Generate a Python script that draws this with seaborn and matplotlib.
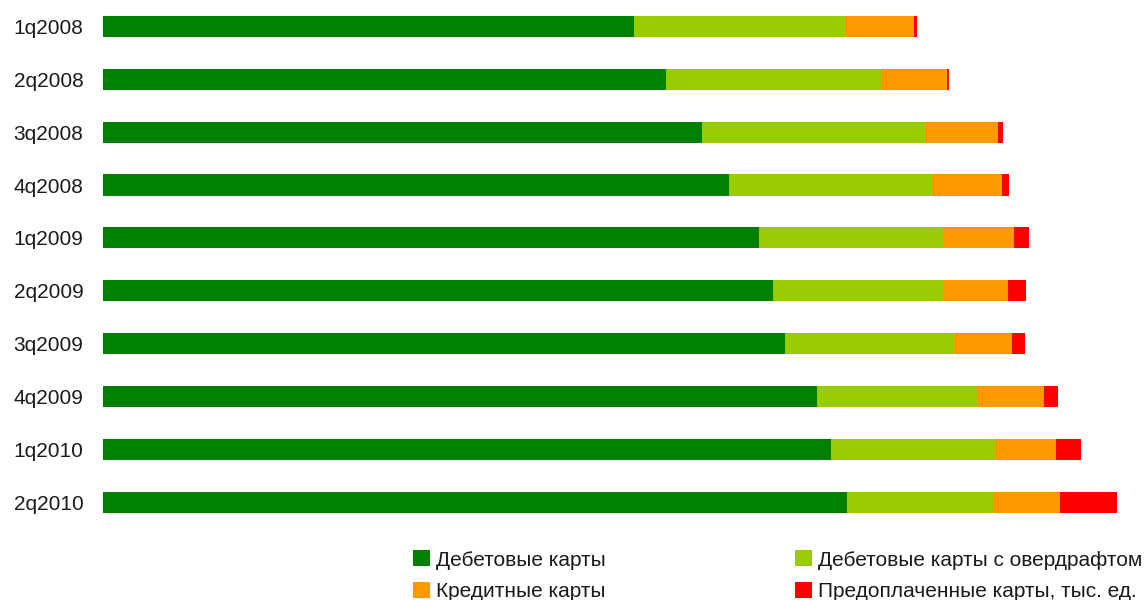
import matplotlib.pyplot as plt
import seaborn as sns
import pandas as pd
from matplotlib.patches import Patch

# --- данные (тыс. ед.), оценены по картинке
quarters = ['1q2008', '2q2008', '3q2008', '4q2008', '1q2009',
            '2q2009', '3q2009', '4q2009', '1q2010', '2q2010']
debit = [66375, 70375, 74875, 78190, 82000, 83750, 85250, 89250, 91000, 93000]
overdraft = [26375, 26875, 27875, 25375, 23060, 21310, 21125, 20060, 20560, 18310]
credit = [8625, 8310, 9125, 8810, 8810, 8060, 7310, 8310, 7560, 8310]
prepaid = [375, 250, 625, 875, 1940, 2250, 1625, 1750, 3125, 7125]

labels = ['Дебетовые карты', 'Дебетовые карты с овердрафтом',
          'Кредитные карты', 'Предоплаченные карты, тыс. ед.']
colors = ['#008000', '#99CC00', '#FF9900', '#FF0000']

sns.set_theme(style='white')
plt.rcParams['font.family'] = ['Liberation Sans', 'DejaVu Sans']

df = pd.DataFrame({'quarter': quarters})
df['s1'] = debit
df['s2'] = df['s1'] + overdraft
df['s3'] = df['s2'] + credit
df['s4'] = df['s3'] + prepaid

fig = plt.figure(figsize=(11.45, 6), dpi=100)
ax = fig.add_axes([0.09, 0.119, 0.91, 0.881])

# стек: рисуем накопленные суммы от большей к меньшей
for col, c in zip(['s4', 's3', 's2', 's1'], colors[::-1]):
    sns.barplot(data=df, x=col, y='quarter', color=c, orient='h',
                width=0.4, saturation=1, linewidth=0, ax=ax)

ax.set_xlim(0, 130250)
ax.set_ylim(9.5, -0.5)
sns.despine(ax=ax, left=True, bottom=True)
ax.set_xticks([])
ax.set_xlabel('')
ax.set_ylabel('')
ax.tick_params(axis='y', length=0, pad=14, labelsize=15, labelcolor='#1a1a1a')

order = [0, 2, 1, 3]
handles = [Patch(color=colors[i], linewidth=0) for i in order]
fig.legend(handles, [labels[i] for i in order], ncol=2, loc='upper left',
           bbox_to_anchor=(0.3607, 0.083), frameon=False,
           prop={'size': 15}, labelcolor='#1a1a1a',
           handlelength=0.82, handleheight=0.82, handletextpad=0.3,
           columnspacing=9.06, labelspacing=0.6, borderpad=0, borderaxespad=0)

fig.savefig('out.png', dpi=100)
